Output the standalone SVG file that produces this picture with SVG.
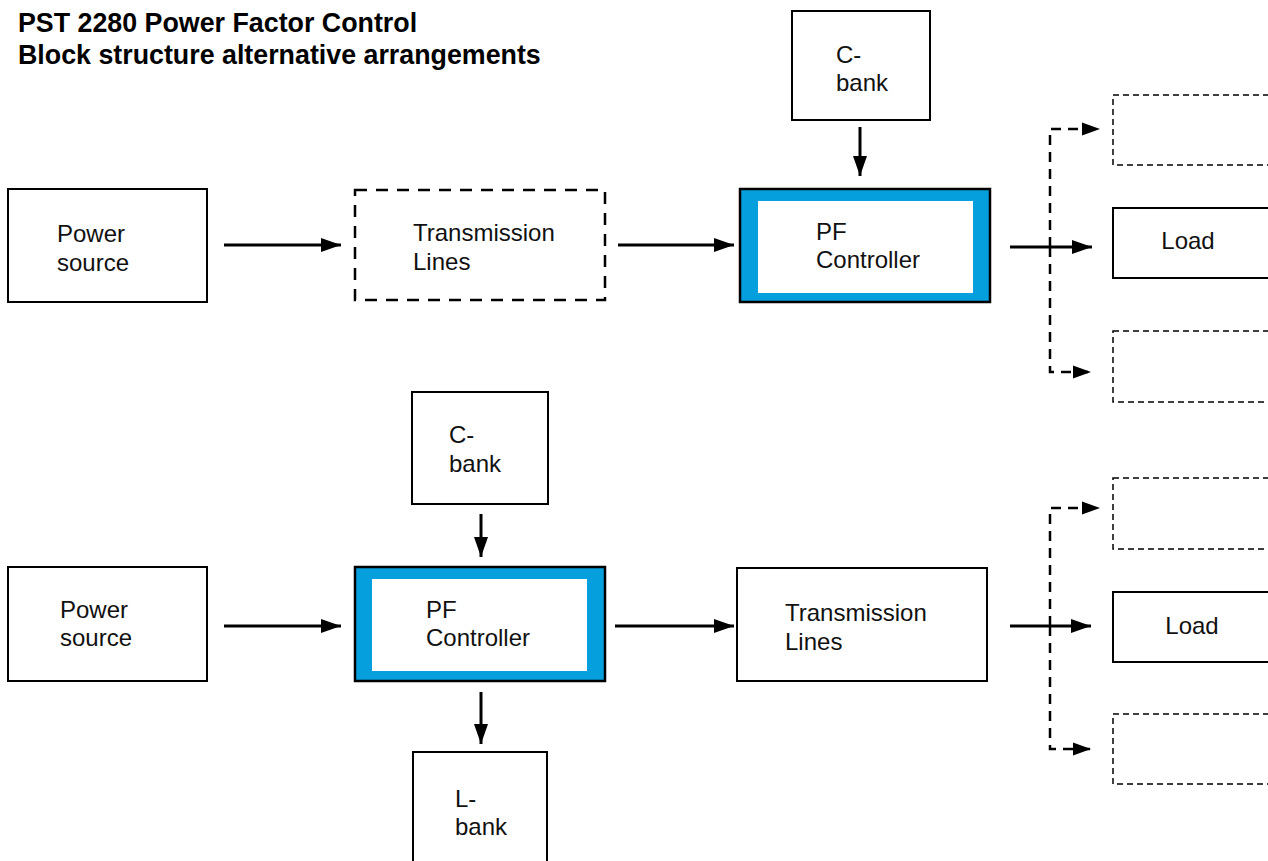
<svg xmlns="http://www.w3.org/2000/svg" width="1268" height="861" viewBox="0 0 1268 861">
  <style>
    .title { font-family: "Liberation Sans", Arial, sans-serif; font-weight: bold; font-size: 26.8px; fill: #000; }
    .lbl { font-family: "Liberation Sans", Arial, sans-serif; font-size: 24px; fill: #111; }
    .box { fill: #fff; stroke: #000; stroke-width: 2; }
    .dashbox { fill: #fff; stroke: #000; stroke-width: 2.5; stroke-dasharray: 12 9; }
    .optbox { fill: #fff; stroke: #000; stroke-width: 1.5; stroke-dasharray: 6 4; }
    .ctrl-outer { fill: #049fdc; stroke: #000; stroke-width: 2.5; }
    .ctrl-inner { fill: #fff; stroke: none; }
    .flow { fill: none; stroke: #000; stroke-width: 3; marker-end: url(#head); }
    .optflow { fill: none; stroke: #000; stroke-width: 2.5; stroke-dasharray: 10 7; marker-end: url(#head-sm); }
  </style>
  <defs>
    <marker id="head" markerUnits="userSpaceOnUse" markerWidth="20" markerHeight="16" refX="20" refY="8" orient="auto">
      <path d="M0,1 L20,8 L0,15 Z" fill="#000"/>
    </marker>
    <marker id="head-sm" markerUnits="userSpaceOnUse" markerWidth="18" markerHeight="14" refX="18" refY="7" orient="auto">
      <path d="M0,0.5 L18,7 L0,13.5 Z" fill="#000"/>
    </marker>
  </defs>

  <rect width="1268" height="861" fill="#fff"/>

  <text class="title" x="18" y="32">PST 2280 Power Factor Control</text>
  <text class="title" x="18" y="64">Block structure alternative arrangements</text>

  <!-- Arrangement 1: controller after the transmission lines -->
  <g id="top-power-source">
    <rect class="box" x="8" y="189" width="199" height="113"/>
    <text class="lbl" x="57" y="242">Power</text>
    <text class="lbl" x="57" y="271">source</text>
  </g>
  <g id="top-transmission">
    <rect class="dashbox" x="355" y="190" width="250" height="110"/>
    <text class="lbl" x="413" y="241">Transmission</text>
    <text class="lbl" x="413" y="270">Lines</text>
  </g>
  <g id="top-controller">
    <rect class="ctrl-outer" x="740" y="189" width="250" height="113"/>
    <rect class="ctrl-inner" x="758" y="201" width="215" height="92"/>
    <text class="lbl" x="816" y="240">PF</text>
    <text class="lbl" x="816" y="268">Controller</text>
  </g>
  <g id="top-cbank">
    <rect class="box" x="792" y="11" width="138" height="109"/>
    <text class="lbl" x="836" y="63">C-</text>
    <text class="lbl" x="836" y="91">bank</text>
  </g>
  <g id="top-load-a">
    <rect class="optbox" x="1113" y="95" width="160" height="70"/>
  </g>
  <g id="top-load">
    <rect class="box" x="1113" y="208" width="160" height="70"/>
    <text class="lbl" x="1188" y="249" text-anchor="middle">Load</text>
  </g>
  <g id="top-load-b">
    <rect class="optbox" x="1113" y="331" width="160" height="71"/>
  </g>

  <!-- Arrangement 2: controller before the transmission lines -->
  <g id="bot-power-source">
    <rect class="box" x="8" y="567" width="199" height="114"/>
    <text class="lbl" x="60" y="618">Power</text>
    <text class="lbl" x="60" y="646">source</text>
  </g>
  <g id="bot-controller">
    <rect class="ctrl-outer" x="355" y="567" width="250" height="114"/>
    <rect class="ctrl-inner" x="372" y="579" width="215" height="92"/>
    <text class="lbl" x="426" y="618">PF</text>
    <text class="lbl" x="426" y="646">Controller</text>
  </g>
  <g id="bot-cbank">
    <rect class="box" x="412" y="392" width="136" height="112"/>
    <text class="lbl" x="449" y="443">C-</text>
    <text class="lbl" x="449" y="472">bank</text>
  </g>
  <g id="bot-lbank">
    <rect class="box" x="413" y="752" width="134" height="120"/>
    <text class="lbl" x="455" y="807">L-</text>
    <text class="lbl" x="455" y="835">bank</text>
  </g>
  <g id="bot-transmission">
    <rect class="box" x="737" y="568" width="250" height="113"/>
    <text class="lbl" x="785" y="621">Transmission</text>
    <text class="lbl" x="785" y="650">Lines</text>
  </g>
  <g id="bot-load-a">
    <rect class="optbox" x="1113" y="478" width="160" height="71"/>
  </g>
  <g id="bot-load">
    <rect class="box" x="1113" y="592" width="160" height="70"/>
    <text class="lbl" x="1192" y="634" text-anchor="middle">Load</text>
  </g>
  <g id="bot-load-b">
    <rect class="optbox" x="1113" y="714" width="160" height="70"/>
  </g>

  <g id="connectors">
    <!-- top row -->
    <path class="flow" d="M224,245 H341"/>
    <path class="flow" d="M618,245 H734"/>
    <path class="flow" d="M860,127 V176"/>
    <path class="optflow" d="M1050,247 V129 H1100"/>
    <path class="optflow" d="M1050,247 V372 H1091"/>
    <path class="flow" d="M1010,247 H1092"/>
    <!-- bottom row -->
    <path class="flow" d="M224,626 H341"/>
    <path class="flow" d="M615,626 H734"/>
    <path class="flow" d="M481,514 V557"/>
    <path class="flow" d="M481,692 V744"/>
    <path class="optflow" d="M1050,626 V508 H1100"/>
    <path class="optflow" d="M1050,626 V749 H1091"/>
    <path class="flow" d="M1010,626 H1091"/>
  </g>
</svg>
